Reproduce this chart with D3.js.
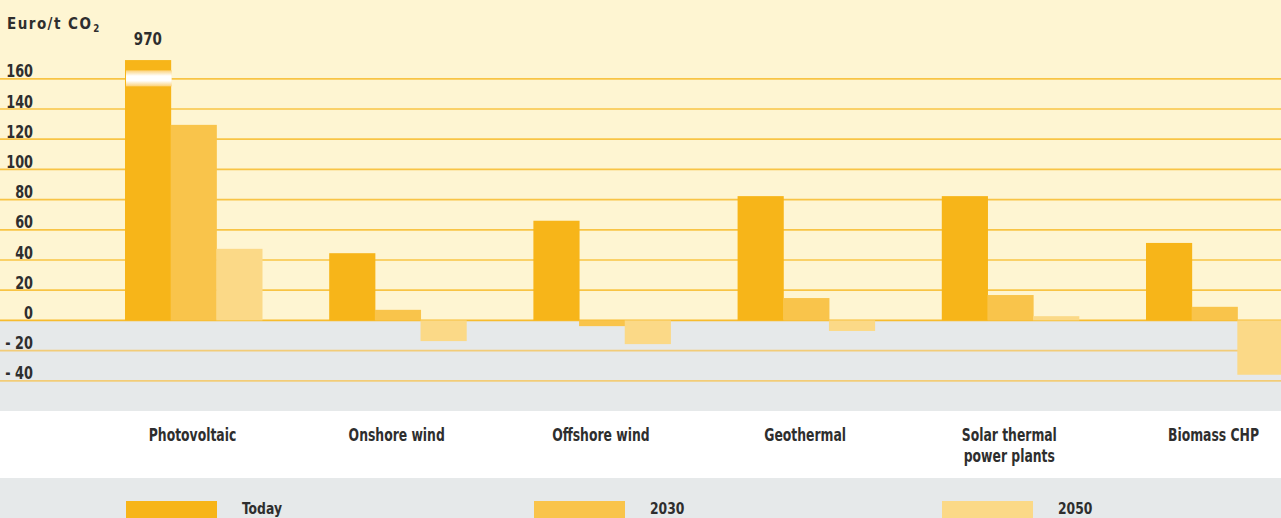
<!DOCTYPE html>
<html>
<head>
<meta charset="utf-8">
<script src="https://cdn.jsdelivr.net/npm/d3@7"></script>
<style>
  html, body { margin: 0; padding: 0; background: #ffffff; }
  svg { display: block; }
  text { font-family: "DejaVu Sans Condensed", "DejaVu Sans", sans-serif; font-weight: bold; fill: #2e2e2e; }
</style>
</head>
<body>
<svg id="chart" width="1281" height="518"></svg>
<script>
// ---- data ----
const categories = ["Photovoltaic", "Onshore wind", "Offshore wind", "Geothermal", "Solar thermal\npower plants", "Biomass CHP"];
const seriesNames = ["Today", "2030", "2050"];
const today  = [970, 44.5, 66, 82.3, 82.3, 51.3];
const y2030  = [129.5, 7, -3.8, 14.8, 16.8, 9];
const y2050  = [47.4, -13.7, -15.7, -7, 2.8, -36];
const tickValues = [160, 140, 120, 100, 80, 60, 40, 20, 0, -20, -40];
const tickLabels = ["160", "140", "120", "100", "80", "60", "40", "20", "0", "- 20", "- 40"];
const axisCap = 172.4;          // visual top of the broken bar
const breakRange = [155, 165.6]; // the white break band on the broken bar
const unitLabel = "Euro/t CO";

const seriesColors = ["#F7B519", "#F9C44B", "#FBD987"];
const series = [today, y2030, y2050];

const svg = d3.select("#chart");
const W = 1281, H = 518;

// place text at (x,y) with horizontal condensing
function place(sel, fx, fy, sx) {
  sel.attr("transform", (d, i) => `translate(${fx(d, i)},${fy(d, i)}) scale(${sx},1)`);
}

// ---- scales ----
const y = d3.scaleLinear().domain([-40, 160]).range([380.8, 78.8]);
const x0 = d3.scaleBand().domain(categories).range([91.4, 1316.6]).paddingInner(0.329).paddingOuter(0.1645);
const x1 = d3.scaleBand().domain(seriesNames).range([0, x0.bandwidth()]);

// ---- backgrounds ----
svg.append("rect").attr("x", 0).attr("y", 0).attr("width", W).attr("height", y(0)).attr("fill", "#FEF5D2");
svg.append("rect").attr("x", 0).attr("y", y(0)).attr("width", W).attr("height", y(-60) - y(0)).attr("fill", "#E6E9EA");
svg.append("rect").attr("x", 0).attr("y", y(-60)).attr("width", W).attr("height", 478 - y(-60)).attr("fill", "#FFFFFF");
svg.append("rect").attr("x", 0).attr("y", 478).attr("width", W).attr("height", H - 478).attr("fill", "#E6E9EA");

// ---- gridlines ----
svg.append("g").selectAll("line").data(tickValues).join("line")
  .attr("x1", 0).attr("x2", W)
  .attr("y1", d => y(d)).attr("y2", d => y(d))
  .attr("stroke", d => d < 0 ? "#F2CC78" : (d === 0 ? "#F7BC2E" : "#F8C445"))
  .attr("stroke-width", 1.7);

// ---- bars ----
const defs = svg.append("defs");
const grad = defs.append("linearGradient").attr("id", "breakGrad").attr("x1", 0).attr("x2", 0).attr("y1", 0).attr("y2", 1);
grad.append("stop").attr("offset", "0%").attr("stop-color", "#FBD178");
grad.append("stop").attr("offset", "35%").attr("stop-color", "#FFFFFF");
grad.append("stop").attr("offset", "65%").attr("stop-color", "#FFFFFF");
grad.append("stop").attr("offset", "100%").attr("stop-color", "#FBD178");

const rows = [];
categories.forEach((c, i) => {
  seriesNames.forEach((s, j) => {
    rows.push({ cat: c, ser: s, j, v: series[j][i] });
  });
});

const g = svg.append("g");
g.selectAll("rect").data(rows).join("rect")
  .attr("x", d => x0(d.cat) + x1(d.ser))
  .attr("width", x1.bandwidth() + 0.5)
  .attr("y", d => y(Math.min(Math.max(d.v, 0), axisCap)))
  .attr("height", d => Math.abs(y(Math.min(d.v, axisCap)) - y(0)))
  .attr("fill", d => seriesColors[d.j]);

// broken bar marker + value label
rows.filter(d => d.v > axisCap).forEach(d => {
  const bx = x0(d.cat) + x1(d.ser);
  svg.append("rect")
    .attr("x", bx + 1).attr("width", x1.bandwidth())
    .attr("y", y(breakRange[1])).attr("height", y(breakRange[0]) - y(breakRange[1]))
    .attr("fill", "url(#breakGrad)");
  const t = svg.append("text")
    .attr("text-anchor", "middle").attr("font-size", 17)
    .text(d3.format("d")(d.v));
  place(t, () => bx + x1.bandwidth() / 2, () => 45, 0.88);
});

// ---- y tick labels ----
const tl = svg.append("g").selectAll("text").data(tickValues).join("text")
  .attr("text-anchor", "end").attr("font-size", 17)
  .text((d, i) => tickLabels[i]);
place(tl, () => 33, d => y(d) - 1.5, 0.84);

// unit label
const ut = svg.append("text").attr("font-size", 15.5).attr("letter-spacing", 1.5);
ut.append("tspan").text(unitLabel);
ut.append("tspan").attr("font-size", 10).attr("dy", 3).attr("dx", 1).text("2");
place(ut, () => 7, () => 29, 0.97);

// ---- category labels ----
const cl = svg.append("g").selectAll("text").data(categories).join("text")
  .attr("text-anchor", "middle").attr("font-size", 17)
  .each(function(d) {
    const t = d3.select(this);
    d.split("\n").forEach((line, k) => {
      t.append("tspan").attr("x", 0).attr("dy", k === 0 ? 0 : 21).text(line);
    });
  });
place(cl, d => x0(d) + x0.bandwidth() / 2 - 1, () => 441, 0.81);

// ---- legend ----
const lx = d3.scaleLinear().domain([0, 1]).range([126, 534]);
const lg = svg.append("g").selectAll("g").data(seriesNames).join("g")
  .attr("transform", (d, i) => `translate(${lx(i)},501)`);
lg.append("rect").attr("width", 91).attr("height", 20).attr("fill", (d, i) => seriesColors[i]);
const ltx = lg.append("text").attr("font-size", 16).text(d => d);
place(ltx, () => 116, () => 12.5, 0.86);
</script>
</body>
</html>
